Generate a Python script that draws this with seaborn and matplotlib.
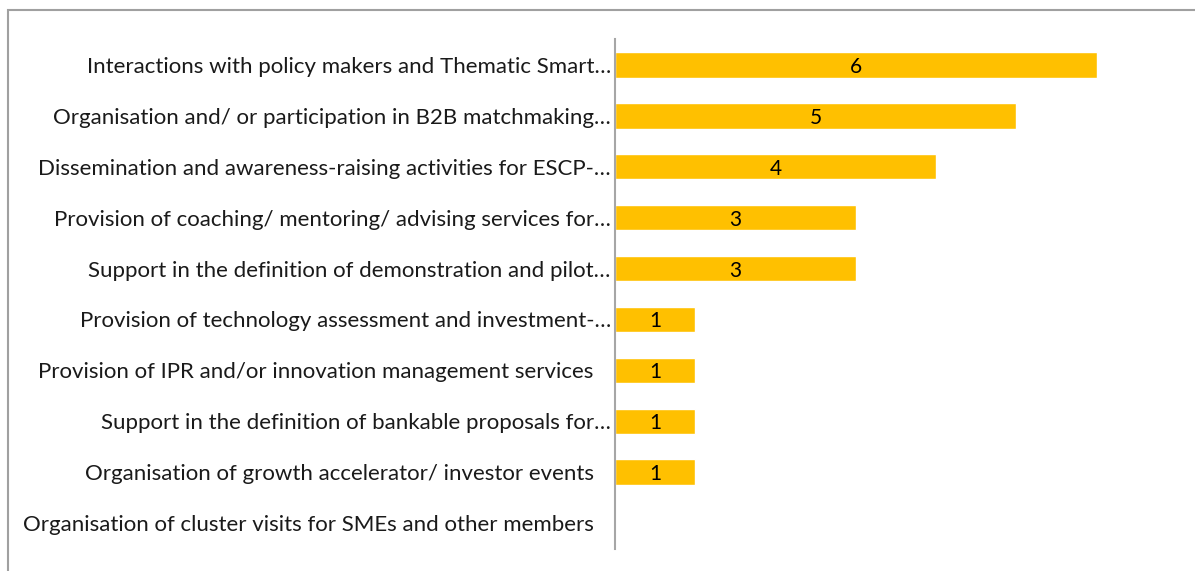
import matplotlib
matplotlib.use("Agg")
import matplotlib.pyplot as plt
import matplotlib.patches as mpatches
import seaborn as sns
import pandas as pd

# Data
activities = [
    "Interactions with policy makers and Thematic Smart\u2026",
    "Organisation and/ or participation in B2B matchmaking\u2026",
    "Dissemination and awareness-raising activities for ESCP-\u2026",
    "Provision of coaching/ mentoring/ advising services for\u2026",
    "Support in the definition of demonstration and pilot\u2026",
    "Provision of technology assessment and investment-\u2026",
    "Provision of IPR and/or innovation management services   ",
    "Support in the definition of bankable proposals for\u2026",
    "Organisation of growth accelerator/ investor events   ",
    "Organisation of cluster visits for SMEs and other members   ",
]
counts = [6, 5, 4, 3, 3, 1, 1, 1, 1, 0]

df = pd.DataFrame({"activity": activities, "count": counts})

sns.set_style("white")
plt.rcParams["font.family"] = ["Lato", "DejaVu Sans"]

W, H = 1195, 571
fig = plt.figure(figsize=(W / 100, H / 100), dpi=100)
ax = fig.add_axes([615 / W, 1 - 548.5 / H, 562 / W, 509 / H])

sns.barplot(data=df, x="count", y="activity", color="#FFC000",
            saturation=1, width=0.5, ax=ax, orient="h")

for bar, v in zip(ax.patches, counts):
    if v > 0:
        ax.text(bar.get_x() + bar.get_width() / 2, bar.get_y() + bar.get_height() / 2,
                str(v), ha="center", va="center_baseline", fontsize=15, color="black")

ax.set_xlim(0, 7)
ax.set_ylim(len(activities) - 0.5, -0.5)
ax.set_xlabel("")
ax.set_ylabel("")
ax.set_xticks([])
for s in ["top", "right", "bottom"]:
    ax.spines[s].set_visible(False)
ax.spines["left"].set_color("#A6A6A6")
ax.spines["left"].set_linewidth(1.5)
ax.tick_params(axis="y", length=0, pad=3, labelsize=16, labelcolor="#1a1a1a")

# outer chart border (top and left visible)
fig.patches.append(mpatches.Rectangle((8 / W, -0.1), 1.2, 1.1 - 10 / H,
                                      transform=fig.transFigure, fill=False,
                                      edgecolor="#A0A0A0", linewidth=1.5))

fig.savefig("out.png", dpi=100)
